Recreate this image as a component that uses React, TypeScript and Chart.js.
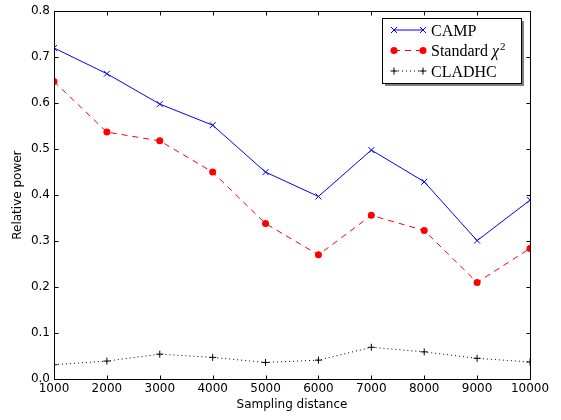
import React, { useEffect, useRef } from "react";
import { Chart, registerables } from "chart.js";

Chart.register(...registerables);

const distances = [1000, 2000, 3000, 4000, 5000, 6000, 7000, 8000, 9000, 10000];
const campValues = [0.72, 0.664, 0.598, 0.552, 0.45, 0.397, 0.498, 0.429, 0.301, 0.389];
const chiValues = [0.647, 0.537, 0.518, 0.45, 0.338, 0.27, 0.356, 0.323, 0.21, 0.284];
const cladhcValues = [0.031, 0.039, 0.054, 0.047, 0.036, 0.041, 0.069, 0.059, 0.045, 0.037];
const seriesNames = ["CAMP", "Standard", "CLADHC"];
const xTickValues = [1000, 2000, 3000, 4000, 5000, 6000, 7000, 8000, 9000, 10000];
const yTickValues = [0, 0.1, 0.2, 0.3, 0.4, 0.5, 0.6, 0.7, 0.8];
const xTitle = "Sampling distance";
const yTitle = "Relative power";

const BLUE = "#0000ff";
const RED = "#ff0000";
const BLACK = "#000000";

function drawMarker(ctx: CanvasRenderingContext2D, kind: string, x: number, y: number, color: string) {
  ctx.save();
  ctx.strokeStyle = color;
  ctx.fillStyle = color;
  ctx.lineWidth = 1;
  ctx.setLineDash([]);
  ctx.beginPath();
  if (kind === "x") {
    const d = 3;
    ctx.moveTo(x - d, y - d);
    ctx.lineTo(x + d, y + d);
    ctx.moveTo(x - d, y + d);
    ctx.lineTo(x + d, y - d);
    ctx.stroke();
  } else if (kind === "o") {
    ctx.arc(x, y, 3.5, 0, Math.PI * 2);
    ctx.fill();
  } else {
    const d = 3.5;
    ctx.moveTo(x - d, y);
    ctx.lineTo(x + d, y);
    ctx.moveTo(x, y - d);
    ctx.lineTo(x, y + d);
    ctx.stroke();
  }
  ctx.restore();
}

const framePlugin = {
  id: "frameAndLegend",
  afterDraw(chart: any) {
    const { ctx, chartArea: a, scales } = chart;
    const L = Math.round(a.left) + 0.5;
    const R = Math.round(a.right) + 0.5;
    const T = Math.round(a.top) + 0.5;
    const B = Math.round(a.bottom) + 0.5;
    ctx.save();
    ctx.strokeStyle = BLACK;
    ctx.lineWidth = 1;
    ctx.setLineDash([]);
    ctx.strokeRect(L, T, R - L, B - T);
    const tl = 4;
    ctx.beginPath();
    xTickValues.forEach((v) => {
      const px = Math.round(scales.x.getPixelForValue(v)) + 0.5;
      ctx.moveTo(px, B);
      ctx.lineTo(px, B - tl);
      ctx.moveTo(px, T);
      ctx.lineTo(px, T + tl);
    });
    yTickValues.forEach((v) => {
      const py = Math.round(scales.y.getPixelForValue(v)) + 0.5;
      ctx.moveTo(L, py);
      ctx.lineTo(L + tl, py);
      ctx.moveTo(R, py);
      ctx.lineTo(R - tl, py);
    });
    ctx.stroke();

    // legend
    const lx = 382, ly = 18, lw = 139, lh = 65;
    ctx.fillStyle = "rgba(0,0,0,0.5)";
    ctx.fillRect(lx + 3, ly + 3, lw, lh);
    ctx.fillStyle = "#ffffff";
    ctx.fillRect(lx, ly, lw, lh);
    ctx.strokeStyle = BLACK;
    ctx.strokeRect(lx + 0.5, ly + 0.5, lw, lh);

    const rows = [
      { y: 30, color: BLUE, dash: [] as number[], marker: "x", label: seriesNames[0] },
      { y: 50.5, color: RED, dash: [6, 5], marker: "o", label: seriesNames[1] },
      { y: 71, color: BLACK, dash: [1, 3], marker: "+", label: seriesNames[2] },
    ];
    const x0 = 394, x1 = 423, tx = 431;
    rows.forEach((r, i) => {
      ctx.save();
      ctx.strokeStyle = r.color;
      ctx.lineWidth = 1;
      ctx.setLineDash(r.dash);
      ctx.beginPath();
      ctx.moveTo(x0, r.y);
      ctx.lineTo(x1, r.y);
      ctx.stroke();
      ctx.restore();
      drawMarker(ctx, r.marker, x0, r.y, r.color);
      drawMarker(ctx, r.marker, x1, r.y, r.color);
      ctx.fillStyle = BLACK;
      ctx.textBaseline = "alphabetic";
      ctx.textAlign = "left";
      ctx.font = '16px "Liberation Serif"';
      const base = r.y + 5.5;
      ctx.fillText(r.label, tx, base);
      if (i === 1) {
        let w = ctx.measureText(r.label + " ").width;
        ctx.font = 'italic 16px "Liberation Serif"';
        ctx.fillText("χ", tx + w, base);
        w += ctx.measureText("χ").width;
        ctx.font = '11px "Liberation Serif"';
        ctx.fillText("2", tx + w + 1, base - 6);
      }
    });
    ctx.restore();
  },
};

export default function App() {
  const ref = useRef<HTMLCanvasElement>(null);
  useEffect(() => {
    document.body.style.margin = "0";
    const tickFont = { family: "DejaVu Sans", size: 12 };
    const chart = new Chart(ref.current as HTMLCanvasElement, {
      type: "line",
      data: {
        datasets: [
          {
            label: seriesNames[0],
            data: distances.map((x, i) => ({ x, y: campValues[i] })),
            borderColor: BLUE,
            backgroundColor: BLUE,
            borderWidth: 1,
            pointStyle: "crossRot",
            pointRadius: 4.2,
            pointBorderColor: BLUE,
            pointBorderWidth: 1,
            clip: 0,
          },
          {
            label: seriesNames[1],
            data: distances.map((x, i) => ({ x, y: chiValues[i] })),
            borderColor: RED,
            backgroundColor: RED,
            borderWidth: 1,
            borderDash: [6, 5],
            pointStyle: "circle",
            pointRadius: 3.5,
            pointBorderWidth: 0,
            pointBackgroundColor: RED,
            clip: 0,
          },
          {
            label: seriesNames[2],
            data: distances.map((x, i) => ({ x, y: cladhcValues[i] })),
            borderColor: BLACK,
            backgroundColor: BLACK,
            borderWidth: 1,
            borderDash: [1, 3],
            pointStyle: "cross",
            pointRadius: 3.5,
            pointBorderColor: BLACK,
            pointBorderWidth: 1,
            clip: 0,
          },
        ],
      } as any,
      options: {
        responsive: false,
        animation: false,
        layout: { padding: { top: 11, right: 31, left: 0, bottom: 0 } },
        plugins: { legend: { display: false }, tooltip: { enabled: false } },
        scales: {
          x: {
            type: "linear",
            min: 1000,
            max: 10000,
            afterBuildTicks: (s: any) => {
              s.ticks = xTickValues.map((v) => ({ value: v }));
            },
            ticks: {
              autoSkip: false,
              maxRotation: 0,
              color: BLACK,
              font: tickFont,
              padding: 3,
              callback: (v: any) => String(v),
            },
            grid: { display: false, drawTicks: false },
            border: { display: false },
            title: {
              display: true,
              text: xTitle,
              color: BLACK,
              font: tickFont,
              padding: { top: 0, bottom: 8 },
            },
            afterFit: (s: any) => {
              s.height = 41;
            },
          },
          y: {
            type: "linear",
            min: 0,
            max: 0.8,
            afterBuildTicks: (s: any) => {
              s.ticks = yTickValues.map((v) => ({ value: v }));
            },
            ticks: {
              color: BLACK,
              font: tickFont,
              padding: 4,
              callback: (v: any) => Number(v).toFixed(1),
            },
            grid: { display: false, drawTicks: false },
            border: { display: false },
            title: {
              display: true,
              text: yTitle,
              color: BLACK,
              font: tickFont,
              padding: { top: 11, bottom: 0 },
            },
            afterFit: (s: any) => {
              s.width = 54;
            },
          },
        },
      } as any,
      plugins: [framePlugin],
    });
    return () => chart.destroy();
  }, []);
  return (
    <div style={{ position: "absolute", left: 0, top: 0, width: 561, height: 420, background: "#fff" }}>
      <canvas ref={ref} width={561} height={420} />
    </div>
  );
}
